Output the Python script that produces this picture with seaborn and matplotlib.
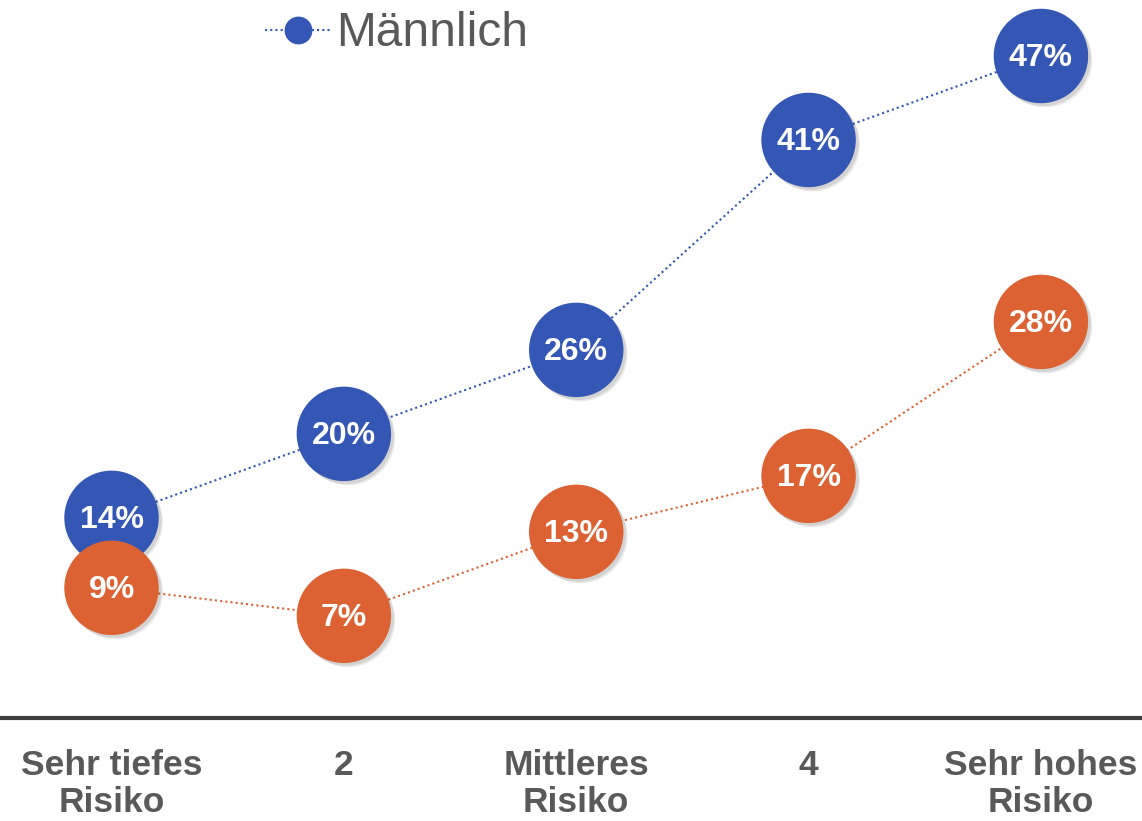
import matplotlib
matplotlib.use("Agg")
import matplotlib.pyplot as plt
import matplotlib.patheffects as pe
from matplotlib.lines import Line2D
import seaborn as sns
import pandas as pd

categories = ["Sehr tiefes\nRisiko", "2", "Mittleres\nRisiko", "4", "Sehr hohes\nRisiko"]
maennlich = [14, 20, 26, 41, 47]
weiblich = [9, 7, 13, 17, 28]
legend_label = "Männlich"

BLUE = "#3456b4"
ORANGE = "#dc6233"
GRAY = "#595959"

sns.set_theme(style="white")
plt.rcParams['font.family'] = ['Liberation Sans', 'DejaVu Sans']

fig = plt.figure(figsize=(11.42, 8.21), dpi=100)
ax = fig.add_axes([0, 103/821, 1, 718/821])

x = list(range(len(categories)))
df_m = pd.DataFrame({"x": x, "y": maennlich})
df_w = pd.DataFrame({"x": x, "y": weiblich})

shadow = [pe.SimplePatchShadow(offset=(3, -3), shadow_rgbFace="black", alpha=0.08),
          pe.SimplePatchShadow(offset=(2, -2), shadow_rgbFace="black", alpha=0.10),
          pe.Normal()]
msize = 68 ** 2

for df, col, z in [(df_m, BLUE, 2), (df_w, ORANGE, 4)]:
    sns.lineplot(data=df, x="x", y="y", ax=ax, color=col, linestyle=(0, (1, 1.5)),
                 linewidth=1.5, zorder=z)
    sns.scatterplot(data=df, x="x", y="y", ax=ax, color=col, s=msize,
                    edgecolor="none", zorder=z + 1, legend=False)
    coll = ax.collections[-1]
    coll.set_path_effects(shadow)
    coll.set_zorder(z + 1)
    for xi, yi in zip(df["x"], df["y"]):
        ax.text(xi, yi - 0.15, f"{yi}%", ha="center", va="center", color="white",
                fontsize=23, fontweight="bold", zorder=z + 2)

ax.set_xlim(-0.48, 4.435)
ax.set_ylim(-0.3, 51.0)
ax.set_xticks(x)
ax.set_xticklabels(categories, fontsize=25.5, fontweight="bold", color=GRAY, linespacing=1.18)
ax.tick_params(axis="x", length=0, pad=22)
ax.set_yticks([])
ax.set_xlabel("")
ax.set_ylabel("")
for s in ["top", "right", "left"]:
    ax.spines[s].set_visible(False)
ax.spines["bottom"].set_color("#404040")
ax.spines["bottom"].set_linewidth(3)

handle = Line2D([0], [0], color=BLUE, linestyle=(0, (1, 1.5)), linewidth=1.5,
                marker="o", markersize=19, markerfacecolor=BLUE, markeredgecolor=BLUE)
leg = fig.legend([handle], [legend_label], loc="center left",
                 bbox_to_anchor=(265/1142, 1 - 34/821), frameon=False,
                 fontsize=34.5, handlelength=1.36, handletextpad=0.12, borderpad=0,
                 borderaxespad=0)
for t in leg.get_texts():
    t.set_color(GRAY)

fig.savefig("out.png", dpi=100)
